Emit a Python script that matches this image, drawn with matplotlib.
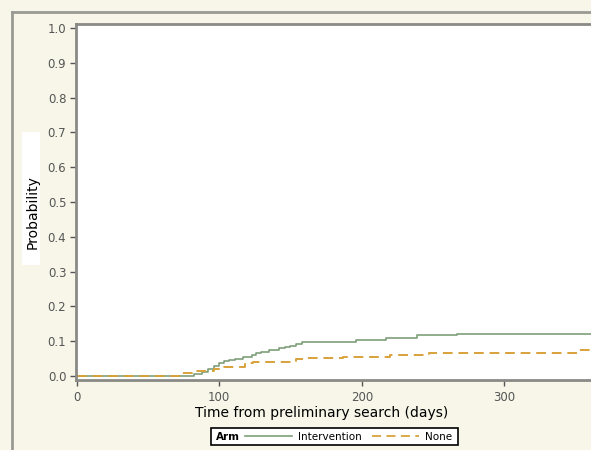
import matplotlib
matplotlib.use('Agg')
import matplotlib.pyplot as plt
from matplotlib.lines import Line2D
from matplotlib.patches import Rectangle

# step curves (days, cumulative probability)
int_days = [0, 82, 88, 92, 96, 100, 103, 107, 111, 117, 123, 126, 129, 135,
            142, 146, 150, 154, 158, 196, 217, 239, 267, 365]
int_prob = [0, 0.006, 0.012, 0.020, 0.030, 0.037, 0.043, 0.046, 0.049, 0.055,
            0.060, 0.065, 0.069, 0.074, 0.080, 0.083, 0.086, 0.092, 0.097,
            0.103, 0.109, 0.117, 0.122, 0.122]

none_days = [0, 73, 84, 96, 103, 118, 124, 154, 160, 187, 220, 247, 352, 365]
none_prob = [0, 0.009, 0.014, 0.020, 0.026, 0.037, 0.040, 0.049, 0.052,
             0.055, 0.060, 0.066, 0.074, 0.074]

y_ticks = [0.0, 0.1, 0.2, 0.3, 0.4, 0.5, 0.6, 0.7, 0.8, 0.9, 1.0]
x_ticks = [0, 100, 200, 300]

green = '#7f9f7a'
orange = '#d8a23a'
bg = '#f7f6e9'
spine = '#8a8a86'

fig = plt.figure(figsize=(5.91, 4.5), dpi=100)
fig.patch.set_facecolor(bg)

# outer frame (cut at right/bottom like the source)
fig.add_artist(Line2D([12/591, 12/591], [0, 1 - 12/450], transform=fig.transFigure,
                      color='#9a9a94', lw=2))
fig.add_artist(Line2D([12/591, 1], [1 - 12/450, 1 - 12/450], transform=fig.transFigure,
                      color='#9a9a94', lw=2))

ax = fig.add_axes([76/591, 1 - 380/450, 1 - 76/591 + 0.01, 356/450])
ax.set_facecolor('white')
ax.step(int_days, int_prob, where='post', color=green, lw=1.2)
ax.step(none_days, none_prob, where='post', color=orange, lw=1.4,
        dashes=(5, 3))

ax.set_xlim(-0.5, 365)
ax.set_ylim(-0.0115, 1.0115)
ax.set_yticks(y_ticks)
ax.set_yticklabels(['%.1f' % v for v in y_ticks])
ax.set_xticks(x_ticks)
for s in ['left', 'bottom', 'top']:
    ax.spines[s].set_color(spine)
    ax.spines[s].set_linewidth(2)
ax.spines['right'].set_visible(False)
ax.tick_params(colors='#555555', labelsize=8.5, length=4, width=1, pad=3)
ax.tick_params(axis='x', pad=4)

ax.set_xlabel('Time from preliminary search (days)', fontsize=10, color='black',
              labelpad=1)
ax.xaxis.label.set_x(0.472)

# y label with white box behind it
fig.patches.append(Rectangle((22/591, 1 - 265/450), 18/591, 133/450,
                             transform=fig.transFigure, facecolor='white',
                             edgecolor='none'))
fig.text(33/591, 1 - 212/450, 'Probability', rotation=90, fontsize=10,
         ha='center', va='center', color='black')

# legend box
fig.patches.append(Rectangle((211/591, 1 - 445/450), 247/591, 17/450,
                             transform=fig.transFigure, facecolor='white',
                             edgecolor='black', lw=1.2))
fig.text(216/591, 1 - 436.5/450, 'Arm', fontsize=7.5, fontweight='bold',
         ha='left', va='center')
handles = [Line2D([], [], color=green, lw=1.2),
           Line2D([], [], color=orange, lw=1.3, dashes=(5, 3))]
fig.legend(handles, ['Intervention', 'None'], ncol=2, frameon=False,
           fontsize=7.5, loc='center left',
           bbox_to_anchor=(245/591, 1 - 436.5/450), handlelength=4.5,
           columnspacing=1.0, handletextpad=0.6, borderpad=0, borderaxespad=0)

fig.savefig('out.png', dpi=100, facecolor=fig.get_facecolor())
